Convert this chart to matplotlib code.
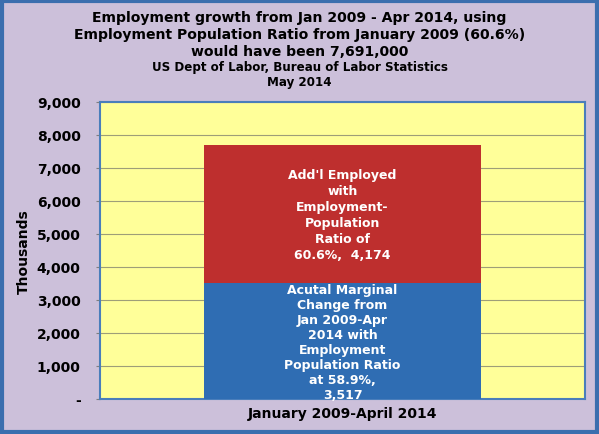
import matplotlib.pyplot as plt
from matplotlib.patches import Rectangle
from matplotlib.ticker import FuncFormatter

kategorie = ["January 2009-April 2014"]
faktyczne = [3517]
dodatkowe = [4174]
etykieta_dol = ("Acutal Marginal\nChange from\nJan 2009-Apr\n2014 with\nEmployment\n"
                "Population Ratio\nat 58.9%,\n3,517")
etykieta_gora = "Add'l Employed\nwith\nEmployment-\nPopulation\nRatio of\n60.6%,  4,174"
tytul = ["Employment growth from Jan 2009 - Apr 2014, using",
         "Employment Population Ratio from January 2009 (60.6%)",
         "would have been 7,691,000"]
podtytul = ["US Dept of Labor, Bureau of Labor Statistics", "May 2014"]

tlo = "#CCC0DA"
zolty = "#FFFF99"
niebieski = "#2F6DB3"
czerwony = "#BE2F2E"

fig = plt.figure(figsize=(5.99, 4.35), dpi=100, facecolor=tlo)
ax = fig.add_axes([100 / 599, 1 - 400 / 435, 485 / 599, 297 / 435])
ax.set_facecolor(zolty)

x = range(len(kategorie))
ax.bar(x, faktyczne, width=0.57, color=niebieski, zorder=3)
ax.bar(x, dodatkowe, bottom=faktyczne, width=0.57, color=czerwony, zorder=3)

ax.text(0, faktyczne[0] / 2 - 20, etykieta_dol, color="white", fontweight="bold",
        fontsize=9, ha="center", va="center", zorder=4, linespacing=1.2,
        clip_on=False)
ax.text(0, faktyczne[0] + dodatkowe[0] / 2, etykieta_gora, color="white",
        fontweight="bold", fontsize=9, ha="center", va="center", zorder=4,
        linespacing=1.3)

ax.set_xlim(-0.5, 0.5)
ax.set_ylim(0, 9000)
ax.set_yticks(range(0, 9001, 1000))
ax.yaxis.set_major_formatter(FuncFormatter(lambda v, p: "-" if v == 0 else f"{int(v):,}"))
ax.set_xticks(list(x))
ax.set_xticklabels(kategorie, fontweight="bold", fontsize=10)
ax.tick_params(axis="x", length=0, pad=5)
ax.tick_params(axis="y", length=3, color="#7F7F7F", pad=11, labelsize=10)
for lab in ax.get_yticklabels():
    lab.set_fontweight("bold")
ax.grid(axis="y", color="#9E9E78", linewidth=0.8, zorder=1)
for s in ax.spines.values():
    s.set_color("#4A7EBB")
    s.set_linewidth(1.5)
ax.set_ylabel("Thousands", fontweight="bold", fontsize=10, labelpad=4)

for i, linia in enumerate(tytul):
    fig.text(0.5, 1 - (18 + 17 * i) / 435, linia, ha="center", va="center",
             fontweight="bold", fontsize=10.1)
for i, linia in enumerate(podtytul):
    fig.text(0.5, 1 - (68 + 14.5 * i) / 435, linia, ha="center", va="center",
             fontweight="bold", fontsize=8.6)

fig.patches.append(Rectangle((0.003, 0.004), 0.994, 0.992, transform=fig.transFigure,
                             fill=False, edgecolor="#3B6EAE", linewidth=3))

fig.savefig("out.png", dpi=100, facecolor=tlo)
